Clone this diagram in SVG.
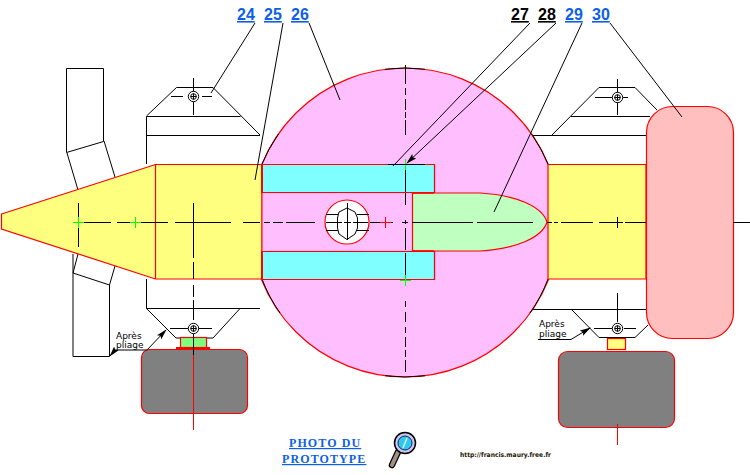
<svg xmlns="http://www.w3.org/2000/svg" width="750" height="475" viewBox="0 0 750 475">
<style>
.k{fill:none;stroke:#000;stroke-width:1}
.k2{fill:none;stroke:#000;stroke-width:1;shape-rendering:crispEdges}
.r{stroke:#f00;stroke-width:1.2}
.rf{fill:none;stroke:#f00;stroke-width:1.2}
.g{fill:none;stroke:#0f0;stroke-width:1;shape-rendering:crispEdges}
.n{font:bold 16px "Liberation Sans",Arial,sans-serif;fill:#0d5fe8;text-decoration:underline}
.nk{fill:#000}
.s{font:9px "DejaVu Sans",Verdana,sans-serif;fill:#000}
.p{font:bold 12px "Liberation Serif",serif;fill:#0d5fe8;text-decoration:underline;letter-spacing:1.1px}
</style>
<defs>
<marker id="a" markerWidth="11" markerHeight="7" refX="10" refY="3.500" orient="auto" markerUnits="userSpaceOnUse"><path d="M0 .5 L11 3.500 L0 6.500 L2 3.500Z" fill="#000"/></marker>
<g id="sym"><circle r="5.200" fill="#fff" stroke="#000"/><circle r="2.800" fill="none" stroke="#000"/><path d="M-3 0H3M0-3V3" stroke="#000"/></g>
</defs>
<rect width="750" height="475" fill="#fff"/>

<g id="flap-top" class="k"><path d="M66.500 152.500V68.500H103.500V141.500L66.500 152.500M67 153L78 190M104 141L115 177"/></g>
<g id="flap-bottom" class="k"><path d="M73 254L73 356.500H109.500V285L73 273M78 254L73 273M115 266L109.500 285"/></g>

<g id="frame-left" class="k">
<path d="M146.500 164V116.500H240.500M146.500 135.500H260M146.500 116L176.500 87.500H213L260 135"/>
<path d="M146.500 279V308.500H260M146.500 308.500L176 338H213L240 308.500"/>
</g>
<g id="frame-right" class="k">
<path d="M571 116.500H650M532 135.500H646M552 135L599 87.500H635L657 110"/>
<path d="M532 309.500H646M571 309L599 337.500H635L648 325"/>
</g>

<g id="wheel-left">
<rect x="180.500" y="337.500" width="26" height="10" fill="#7fff7f" class="r"/>
<rect x="176" y="347" width="34" height="3" fill="#f00"/>
<rect x="141.500" y="349.500" width="106" height="64" rx="8" fill="#808080" class="r"/>
<path d="M193.500 355V430" stroke="#f00" fill="none"/>
</g>
<g id="wheel-right">
<rect x="607.500" y="338.500" width="18" height="11" fill="#ffff7f" class="r"/>
<rect x="558.500" y="351.500" width="116" height="76" rx="9" fill="#808080" class="r"/>
<path d="M617.500 424V445" stroke="#f00" fill="none"/>
</g>

<g id="disc">
<circle cx="405" cy="222.500" r="154.500" fill="#ffbfff" stroke="#f00" stroke-width="1.200"/>
<path d="M531.500 134A154.500 154.500 0 0 1 548 164M548 279A154.500 154.500 0 0 1 530 313M278.500 134A154.500 154.500 0 0 0 262 164M262 279A154.500 154.500 0 0 0 280 313M385 69.300A154.500 154.500 0 0 1 425 69.300M385 375.700A154.500 154.500 0 0 0 425 375.700" class="k"/>
</g>
<g id="body">
<path d="M1.500 214L155.500 164.500H262V279H155.500L1.500 229Z" fill="#ffff7f" class="r"/>
<path d="M155.500 164.500V279" class="rf"/>
<path d="M548 164.500H646V279H548Z" fill="#ffff7f" class="r"/>
</g>
<g id="slot">
<path d="M262 164.500H434.500V192.500H262Z" fill="#7fffff" class="r"/>
<path d="M262 251.500H434.500V279.500H262Z" fill="#7fffff" class="r"/>
<rect x="262" y="192.500" width="172" height="59" fill="#ffbfff"/>
<path d="M262 192.500H434.500M262 251.500H434.500" class="rf"/>
<path d="M262 164V193M262 251V279" stroke="#f00" stroke-width="2" fill="none"/>
<path d="M262 193V251" stroke="#f00" stroke-width="1" fill="none"/>
</g>
<g id="rod">
<path d="M412.500 193H480C515 195 542 206 547 222C542 238 515 249 480 251H412.500Z" fill="#bfffbf" class="r"/>
<path d="M412 193H434M412 251H434" stroke="#f00" stroke-width="1.500"/>
</g>
<g id="hub">
<circle cx="347" cy="222" r="22" fill="#fff" stroke="#f00" stroke-width="1.200"/>
<path d="M326 214.500H338M326 230.500H338M357 214.500H369M357 230.500H369" class="k2"/>
<path d="M347 208L355 212L357.500 218V228L355 234L347 239.500L339 234L337.500 228V218L339 212Z" class="k" fill="#fff"/>
<path d="M347.500 203V240" class="k2"/>
<path d="M326 222.500H342M344 222.500H351M353 222.500H368" class="k2"/>
</g>
<g id="cap">
<rect x="646.500" y="106.500" width="87" height="232" rx="26" fill="#ffbfbf" class="r"/>
</g>

<g id="center-lines">
<path d="M84 222.500H111M117 222.500H130M137 222.500H168M175 222.500H186M200 222.500H231M243 222.500H260M264 222.500H270M273 222.500H283M286 222.500H315M370 222.500H393M402 222.500H408M412 222.500H473M477 222.500H533M547 222.500H549M552 222.500H552M548 222.500H552M554 222.500H558M561 222.500H593M599 222.500H612M625 222.500H646" class="k2"/>
<path d="M733 222.500H750" class="k2"/>
<path d="M78.500 203V247M193.500 203V258M193.500 262V279M193.500 285V297M193.500 300V320M193.500 333V355" class="k2"/>
<path d="M405.500 65V84M405.500 88V95M405.500 99V110M405.500 112V118M405.500 120V135M405.500 164V192M405.500 193V205M405.500 220V224M405.500 228V250M405.500 253V278M405.500 301V307M405.500 312V322M405.500 327V333M405.500 337V347M405.500 350V357M405.500 360V372" class="k2"/>
<path d="M193.500 78V115M171 96.500H183M202 96.500H212" class="k2"/>
<path d="M617.500 79V115M595 97.500H612M623 97.500H628" class="k2"/>
<path d="M170 328.500H188M198 328.500H212" class="k2"/>
<path d="M594 328.500H612M624 328.500H636M617.500 293V322" class="k2"/>
<path d="M186 222.500H200M193.500 217V228M612 222.500H623M617.500 217V228" class="k2"/>
<use href="#sym" x="193.500" y="96.500"/>
<use href="#sym" x="617.500" y="97.500"/>
<use href="#sym" x="193.500" y="328.500"/>
<use href="#sym" x="617.500" y="328.500"/>
<path d="M73 222.500H84M78.500 217V228M130 222.500H141M135.500 217V228M400 164.500H411M405.500 159V170M400 280.500H411M405.500 275V286" class="g"/>
<path d="M380 222.500H391M385.500 217V228" stroke="#f00" fill="none" shape-rendering="crispEdges"/>
</g>

<g id="connectors" class="k">
<path d="M255 23L211 93"/>
<path d="M283 23L255 180"/>
<path d="M309 23L340 100"/>
<path d="M530 23L393 166M388 164.500H425"/>
<path d="M556 23L407 163" marker-end="url(#a)"/>
<path d="M582 23L494 212"/>
<path d="M610 23L682 117"/>
<path d="M147 350H115L110 356" marker-end="url(#a)"/>
<path d="M147 350L166 330" marker-end="url(#a)"/>
<path d="M538 339.500H571L590 328" marker-end="url(#a)"/>
</g>

<g id="labels">
<text x="237" y="20" class="n">24</text>
<text x="264" y="20" class="n">25</text>
<text x="291" y="20" class="n">26</text>
<text x="511" y="20" class="n nk">27</text>
<text x="538" y="20" class="n nk">28</text>
<text x="565" y="20" class="n">29</text>
<text x="592" y="20" class="n">30</text>
<text x="116" y="339" class="s">Après</text>
<text x="116" y="348" class="s">pliage</text>
<text x="539" y="327" class="s">Après</text>
<text x="539" y="337" class="s">pliage</text>
<text x="289" y="447" class="p">PHOTO DU</text>
<text x="282" y="463" class="p">PROTOTYPE</text>
<text x="460" y="457" textLength="91" lengthAdjust="spacingAndGlyphs" style="font:bold 6.500px 'DejaVu Sans',sans-serif;fill:#1a1400">http://francis.maury.free.fr</text>
</g>

<g id="magnifier">
<path d="M398 452L392 465" stroke="#000" stroke-width="6.500" stroke-linecap="round"/>
<path d="M398 452L392 465" stroke="#a09088" stroke-width="4" stroke-linecap="round"/>
<circle cx="405" cy="443" r="10.500" fill="#c8c8f0" stroke="#000" stroke-width="1.500"/>
<circle cx="405" cy="443" r="7" fill="#30c8f0" stroke="#202060" stroke-width="1"/>
<path d="M407 438L403 448" stroke="#d0f8ff" stroke-width="1.500"/>
</g>
</svg>
